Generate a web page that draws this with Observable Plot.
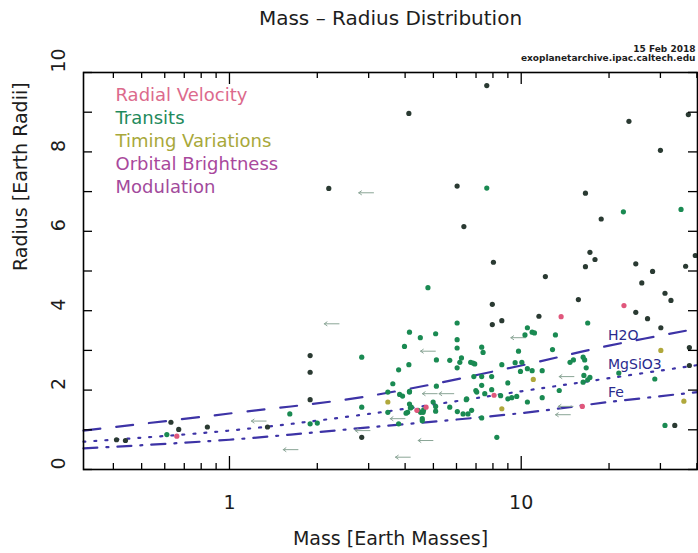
<!DOCTYPE html>
<html>
<head>
<meta charset="utf-8">
<script src="https://cdn.jsdelivr.net/npm/d3@7"></script>
<script src="https://cdn.jsdelivr.net/npm/@observablehq/plot@0.6"></script>
<style>
  body { margin: 0; background: #fff; }
  svg { font-family: "DejaVu Sans", sans-serif; }
</style>
</head>
<body>
<div id="chart"></div>
<script>
// Planets with measured mass [Earth masses] and radius [Earth radii], by discovery method
const transits = [
  [7.62,7.09],[35.3,6.55],[22.4,6.49],[4.79,4.58],[6.03,3.69],[16.9,3.69],[10.5,3.57],[10.9,3.46],
  [11.1,3.44],[10.3,3.39],[4.14,3.46],[4.51,3.32],[5.09,3.42],[6.03,3.27],[6.03,3.06],[7.32,3.08],
  [7.4,2.95],[3.98,3.10],[13.1,3.39],[2.84,2.83],[9.79,2.98],[12.8,3.02],[5.69,2.75],[6.24,2.81],
  [6.16,2.70],[6.71,2.70],[6.93,2.66],[6.03,2.56],[5.12,2.76],[4.12,2.64],[3.80,2.51],[3.63,2.16],
  [3.49,1.95],[3.83,1.89],[3.92,1.85],[4.14,1.95],[9.53,2.69],[10.05,2.70],[8.58,2.64],[10.5,2.54],
  [10.9,2.49],[11.8,2.49],[9.94,2.47],[9.0,2.18],[7.92,2.34],[7.32,2.34],[6.88,2.34],[6.84,2.68],
  [7.32,2.12],[7.92,2.01],[8.5,1.86],[9.0,1.78],[9.28,1.81],[9.65,1.84],[10.5,1.70],[11.8,1.81],
  [7.04,1.95],[6.5,1.78],[6.99,1.99],[7.5,1.91],[5.12,2.10],[4.14,1.97],[14.7,2.70],[15.1,2.76],
  [16.3,2.83],[16.5,2.76],[16.7,2.56],[16.4,2.37],[16.9,2.26],[16.3,2.20],[17.2,2.32],[13.5,1.99],
  [21.6,2.43],[28.7,2.28],[31.1,1.11],[7.32,1.30],[8.25,0.81],[2.84,1.57],[3.49,1.44],[4.17,1.55],
  [4.08,1.44],[4.52,1.44],[4.61,1.44],[4.58,1.28],[4.58,1.23],[4.99,1.70],[5.09,1.59],[5.09,1.47],
  [5.69,1.57],[6.04,1.46],[6.32,1.40],[6.57,1.40],[6.76,1.49],[6.48,1.76],[4.14,1.65],[4.2,1.57],
  [4.03,1.42],[4.43,1.49],[4.63,1.50],[3.80,1.15],[1.89,1.15],[2.0,1.17],[1.61,1.40],[0.61,0.88]
];
const transitsDark = [
  [7.62,9.67],[4.12,8.97],[23.4,8.77],[37.4,8.94],[30.0,8.04],[6.03,7.14],[2.19,7.08],[16.6,6.96],
  [18.8,6.31],[6.36,6.12],[17.2,5.47],[17.9,5.29],[39.5,5.39],[8.03,5.22],[16.6,5.11],[24.7,5.18],
  [28.2,4.99],[36.6,5.12],[12.1,4.86],[25.9,4.70],[31.1,4.44],[32.6,4.26],[15.7,4.28],[7.96,4.16],
  [24.7,3.96],[11.5,3.86],[27.1,3.80],[7.96,3.65],[8.58,3.75],[30.1,3.57],[37.7,3.07],[37.7,2.62],
  [33.6,1.11],[1.89,2.87],[1.89,2.45],[1.89,1.76],[2.84,0.81],[1.35,1.07],[0.63,1.19],[0.67,1.01],
  [0.84,1.07],[0.41,0.75],[0.44,0.73]
];
const radialVelocity = [[22.5,4.13],[13.7,3.85],[8.07,1.87],[4.39,1.49],[4.72,1.57],[16.2,1.59],[0.66,0.84]];
const timingVariations = [[11.0,2.27],[8.58,1.53],[3.49,1.70],[30.1,3.0],[36.1,1.72]];
// Mass upper limits
const upperLimits = [
  [2.94,6.97],[2.24,3.67],[1.26,1.22],[1.62,0.50],[2.86,0.98],[9.77,3.32],[4.79,2.98],[14.3,2.34],
  [14.2,1.59],[13.9,1.38],[4.70,0.73],[3.93,0.31],[3.77,1.28],[4.86,1.91],[5.54,1.91]
];

// Composition models
const modelMass = [0.316, 1, 3, 10, 20, 40.2];
const h2oRadius = [0.98, 1.41, 1.85, 2.62, 3.12, 3.55];
const mgsio3Radius = [0.70, 0.98, 1.40, 1.97, 2.30, 2.63];
const feRadius = [0.53, 0.75, 1.06, 1.42, 1.70, 1.95];
const modelNames = ["H2O", "MgSiO3", "Fe"];

// Axis ticks
const xMajorTicks = [1, 10];
const xMinorTicks = [0.4, 0.5, 0.6, 0.7, 0.8, 0.9, 2, 3, 4, 5, 6, 7, 8, 9, 20, 30, 40];
const yTicks = [0, 1, 2, 3, 4, 5, 6, 7, 8, 9, 10];
const yTickLabels = [0, 2, 4, 6, 8, 10];
const xTickLabels = [1, 10];

// Legend
const legendLabels = ["Radial Velocity", "Transits", "Timing Variations", "Orbital Brightness", "Modulation"];
const legendColors = ["#dc6a8c", "#1f8a5c", "#a8a83a", "#a9489c", "#a24a9c"];

const W = 698, H = 553;
const mL = 83, mR = 1, mT = 72, mB = 84;
const frameW = W - mL - mR, frameH = H - mT - mB;

const modelData = (radii, name) => modelMass.map((m, i) => ({mass: m, r: radii[i], name}));
const models = [modelData(h2oRadius, "H2O"), modelData(mgsio3Radius, "MgSiO3"), modelData(feRadius, "Fe")];
const modelDash = ["17,16", "2,9", "14,9,2,9"];
const modelStroke = "#3d33a6";

const textColor = "#1d1d1d";
const label = (txt, opts) => Plot.text([txt], {lineAnchor: "middle", fill: textColor, ...opts});

const chart = Plot.plot({
  width: W,
  height: H,
  marginLeft: mL,
  marginRight: mR,
  marginTop: mT,
  marginBottom: mB,
  style: {background: "#fff", fontFamily: "DejaVu Sans, sans-serif"},
  x: {type: "log", domain: [0.316, 40.2], axis: null},
  y: {domain: [0, 10], axis: null},
  marks: [
    // composition curves
    ...models.map((d, i) => Plot.line(d, {
      x: "mass", y: "r", stroke: modelStroke, strokeWidth: 2.2,
      strokeDasharray: modelDash[i], curve: "catmull-rom"
    })),
    ...models.map((d, i) => Plot.text([d[4]], {
      x: "mass", y: "r", text: () => modelNames[i], textAnchor: "start",
      dx: -1, dy: [-10, -14, -9][i], fill: "#2b2b8e", fontSize: 14
    })),
    // upper limits in mass
    Plot.arrow(upperLimits, {
      x1: d => d[0] * 1.06, x2: d => d[0] / 1.06, y: d => d[1],
      stroke: "#8aa596", strokeWidth: 1, headLength: 5, headAngle: 70
    }),
    // planets
    Plot.dot(transitsDark, {x: d => d[0], y: d => d[1], r: 2.6, fill: "#2a3a32"}),
    Plot.dot(transits, {x: d => d[0], y: d => d[1], r: 2.6, fill: "#1a8a52"}),
    Plot.dot(radialVelocity, {x: d => d[0], y: d => d[1], r: 2.6, fill: "#e0577c"}),
    Plot.dot(timingVariations, {x: d => d[0], y: d => d[1], r: 2.6, fill: "#b0a83c"}),
    // inward ticks on all four sides
    Plot.tickX(xMajorTicks, {x: d => d, insetTop: frameH - 13, stroke: "#000", strokeWidth: 1.3}),
    Plot.tickX(xMinorTicks, {x: d => d, insetTop: frameH - 6, stroke: "#000", strokeWidth: 1.3}),
    Plot.tickX(xMajorTicks, {x: d => d, insetBottom: frameH - 12, stroke: "#000", strokeWidth: 1.3}),
    Plot.tickX(xMinorTicks, {x: d => d, insetBottom: frameH - 6, stroke: "#000", strokeWidth: 1.3}),
    Plot.tickY(yTicks, {y: d => d, insetRight: frameW - 9, stroke: "#000", strokeWidth: 1.3}),
    Plot.tickY(yTicks, {y: d => d, insetLeft: frameW - 9, stroke: "#000", strokeWidth: 1.3}),
    Plot.frame({stroke: "#000", strokeWidth: 1.6}),
    // tick labels
    Plot.text(xTickLabels, {x: d => d, text: d => String(d), frameAnchor: "bottom", lineAnchor: "middle", dy: 33, fontSize: 19, fill: textColor}),
    Plot.text(yTickLabels, {y: d => d, text: d => String(d), frameAnchor: "left", lineAnchor: "middle", dx: -25, rotate: -90, fontSize: 19, fill: textColor}),
    // axis titles
    label("Mass [Earth Masses]", {frameAnchor: "bottom", dy: 69, fontSize: 19}),
    label("Radius [Earth Radii]", {frameAnchor: "left", dx: -63, rotate: -90, fontSize: 19}),
    // title and source
    label("Mass – Radius Distribution", {frameAnchor: "top", dy: -54, fontSize: 20}),
    label("15 Feb 2018", {frameAnchor: "top-right", dx: -2, dy: -23, textAnchor: "end", fontSize: 9, fontWeight: "bold"}),
    label("exoplanetarchive.ipac.caltech.edu", {frameAnchor: "top-right", dx: -2, dy: -14, textAnchor: "end", fontSize: 9, fontWeight: "bold"}),
    // legend
    ...legendLabels.map((txt, i) => label(txt, {
      frameAnchor: "top-left", dx: 32, dy: 23 * (i + 1), textAnchor: "start",
      fontSize: 18, fill: legendColors[i]
    }))
  ]
});

document.getElementById("chart").append(chart);
</script>
</body>
</html>
